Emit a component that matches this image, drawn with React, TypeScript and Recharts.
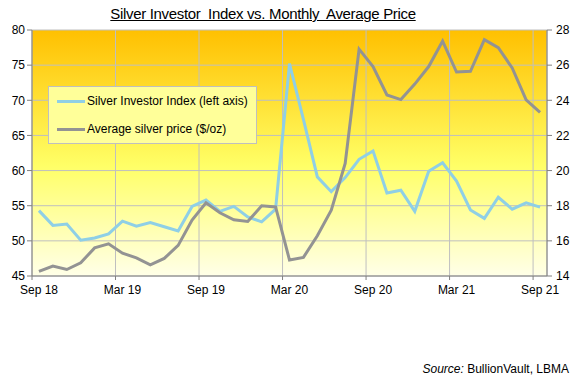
import React from 'react';
import { ComposedChart, Line, XAxis, YAxis, CartesianGrid, Legend } from 'recharts';

const months = [
  'Sep 18','Oct 18','Nov 18','Dec 18','Jan 19','Feb 19','Mar 19','Apr 19','May 19','Jun 19','Jul 19','Aug 19',
  'Sep 19','Oct 19','Nov 19','Dec 19','Jan 20','Feb 20','Mar 20','Apr 20','May 20','Jun 20','Jul 20','Aug 20',
  'Sep 20','Oct 20','Nov 20','Dec 20','Jan 21','Feb 21','Mar 21','Apr 21','May 21','Jun 21','Jul 21','Aug 21','Sep 21'
];

const investorIndex = [
  54.3, 52.2, 52.4, 50.1, 50.4, 51.0, 52.8, 52.1, 52.6, 52.0, 51.4, 54.9,
  55.8, 54.2, 54.9, 53.4, 52.7, 54.5, 75.2, 67.3, 59.1, 57.0, 59.0, 61.6,
  62.8, 56.8, 57.2, 54.2, 59.9, 61.1, 58.5, 54.4, 53.2, 56.2, 54.5, 55.4, 54.8
];

const silverPrice = [
  14.26, 14.57, 14.37, 14.75, 15.6, 15.83, 15.3, 15.03, 14.63, 15.0, 15.74, 17.18,
  18.17, 17.6, 17.2, 17.1, 18.0, 17.93, 14.91, 15.06, 16.29, 17.74, 20.4, 26.91,
  25.92, 24.3, 24.04, 24.92, 25.92, 27.37, 25.61, 25.65, 27.45, 26.99, 25.84, 24.03, 23.31
];

const seriesNames = ['Silver Investor Index (left axis)', 'Average silver price ($/oz)'];
const xTickLabels = ['Sep 18', 'Mar 19', 'Sep 19', 'Mar 20', 'Sep 20', 'Mar 21', 'Sep 21'];
const leftTicks = [45, 50, 55, 60, 65, 70, 75, 80];
const rightTicks = [14, 16, 18, 20, 22, 24, 26, 28];

const data = months.map((m, i) => ({
  month: m,
  x: i + 0.5,
  index: investorIndex[i],
  price: silverPrice[i],
}));

const xTicks = xTickLabels.map((_, k) => k * 6);

const FONT = '"Liberation Sans", Arial, sans-serif';

const XTick = (props: any) => {
  const { x, y, payload } = props;
  const label = xTickLabels[Math.round(payload.value / 6)];
  return (
    <text x={x + 7} y={y} dy="0.71em" textAnchor="middle" fontSize={12} fontFamily={FONT} fill="#000">
      {label}
    </text>
  );
};

const LegendBox = (props: any) => {
  const payload = [...(props.payload || [])].sort(
    (a: any, b: any) => seriesNames.indexOf(a.value) - seriesNames.indexOf(b.value)
  );
  return (
    <div
      style={{
        width: 207,
        height: 56,
        background: '#FFFF99',
        border: '1px solid #BFBFBF',
        fontFamily: FONT,
        fontSize: 12,
        color: '#000',
        boxSizing: 'content-box',
      }}
    >
      {payload.map((p: any, k: number) => (
        <div key={k} style={{ display: 'flex', alignItems: 'center', height: 28, paddingLeft: 8 }}>
          <span style={{ display: 'inline-block', width: 28, height: 3, background: p.color, marginRight: 2 }} />
          <span>{p.value}</span>
        </div>
      ))}
    </div>
  );
};

export default function App() {
  return (
    <div style={{ position: 'absolute', left: 0, top: 0, width: 575, height: 381, background: '#fff', fontFamily: FONT }}>
      <svg width={0} height={0} style={{ position: 'absolute' }}>
        <defs>
          <linearGradient id="bgGrad" x1="0" y1="0" x2="0" y2="1">
            <stop offset="0%" stopColor="#FFC000" />
            <stop offset="55%" stopColor="#FFFF66" />
            <stop offset="100%" stopColor="#FFFFE8" />
          </linearGradient>
        </defs>
      </svg>
      <div
        style={{
          position: 'absolute',
          left: 263,
          top: 5,
          transform: 'translateX(-50%)',
          fontSize: 15,
          letterSpacing: -0.33,
          textDecoration: 'underline',
          whiteSpace: 'pre',
          color: '#000',
        }}
      >
        {'Silver Investor  Index vs. Monthly  Average Price'}
      </div>
      <ComposedChart
        width={575}
        height={381}
        data={data}
        margin={{ top: 30, right: 0, bottom: 17, left: 0 }}
      >
        <CartesianGrid yAxisId="left" stroke="#BFBFBF" fill="url(#bgGrad)" fillOpacity={1} />
        <XAxis
          type="number"
          dataKey="x"
          domain={[0, 37]}
          ticks={xTicks}
          interval={0}
          height={30}
          stroke="#808080"
          tickSize={4}
          tickMargin={5}
          tick={<XTick />}
          allowDataOverflow
        />
        <YAxis
          yAxisId="left"
          domain={[45, 80]}
          ticks={leftTicks}
          interval={0}
          width={32}
          stroke="#808080"
          tickSize={5}
          tickMargin={2}
          tick={{ fontSize: 12, fill: '#000', fontFamily: FONT }}
        />
        <YAxis
          yAxisId="right"
          orientation="right"
          domain={[14, 28]}
          ticks={rightTicks}
          interval={0}
          width={28}
          stroke="#808080"
          tickSize={5}
          tickMargin={4}
          tick={{ fontSize: 12, fill: '#000', fontFamily: FONT }}
        />
        <Legend
          content={<LegendBox />}
          wrapperStyle={{ position: 'absolute', left: 48, top: 86, width: 'auto', height: 'auto' }}
        />
        <Line
          yAxisId="left"
          type="linear"
          dataKey="index"
          name={seriesNames[0]}
          stroke="#8FCFE6"
          strokeWidth={3}
          dot={false}
          activeDot={false}
          isAnimationActive={false}
        />
        <Line
          yAxisId="right"
          type="linear"
          dataKey="price"
          name={seriesNames[1]}
          stroke="#939393"
          strokeWidth={3}
          dot={false}
          activeDot={false}
          isAnimationActive={false}
        />
      </ComposedChart>
      <div
        style={{
          position: 'absolute',
          right: 6,
          top: 362,
          fontSize: 12,
          color: '#000',
          whiteSpace: 'pre',
        }}
      >
        <i>Source:</i>
        {' BullionVault, LBMA'}
      </div>
    </div>
  );
}
